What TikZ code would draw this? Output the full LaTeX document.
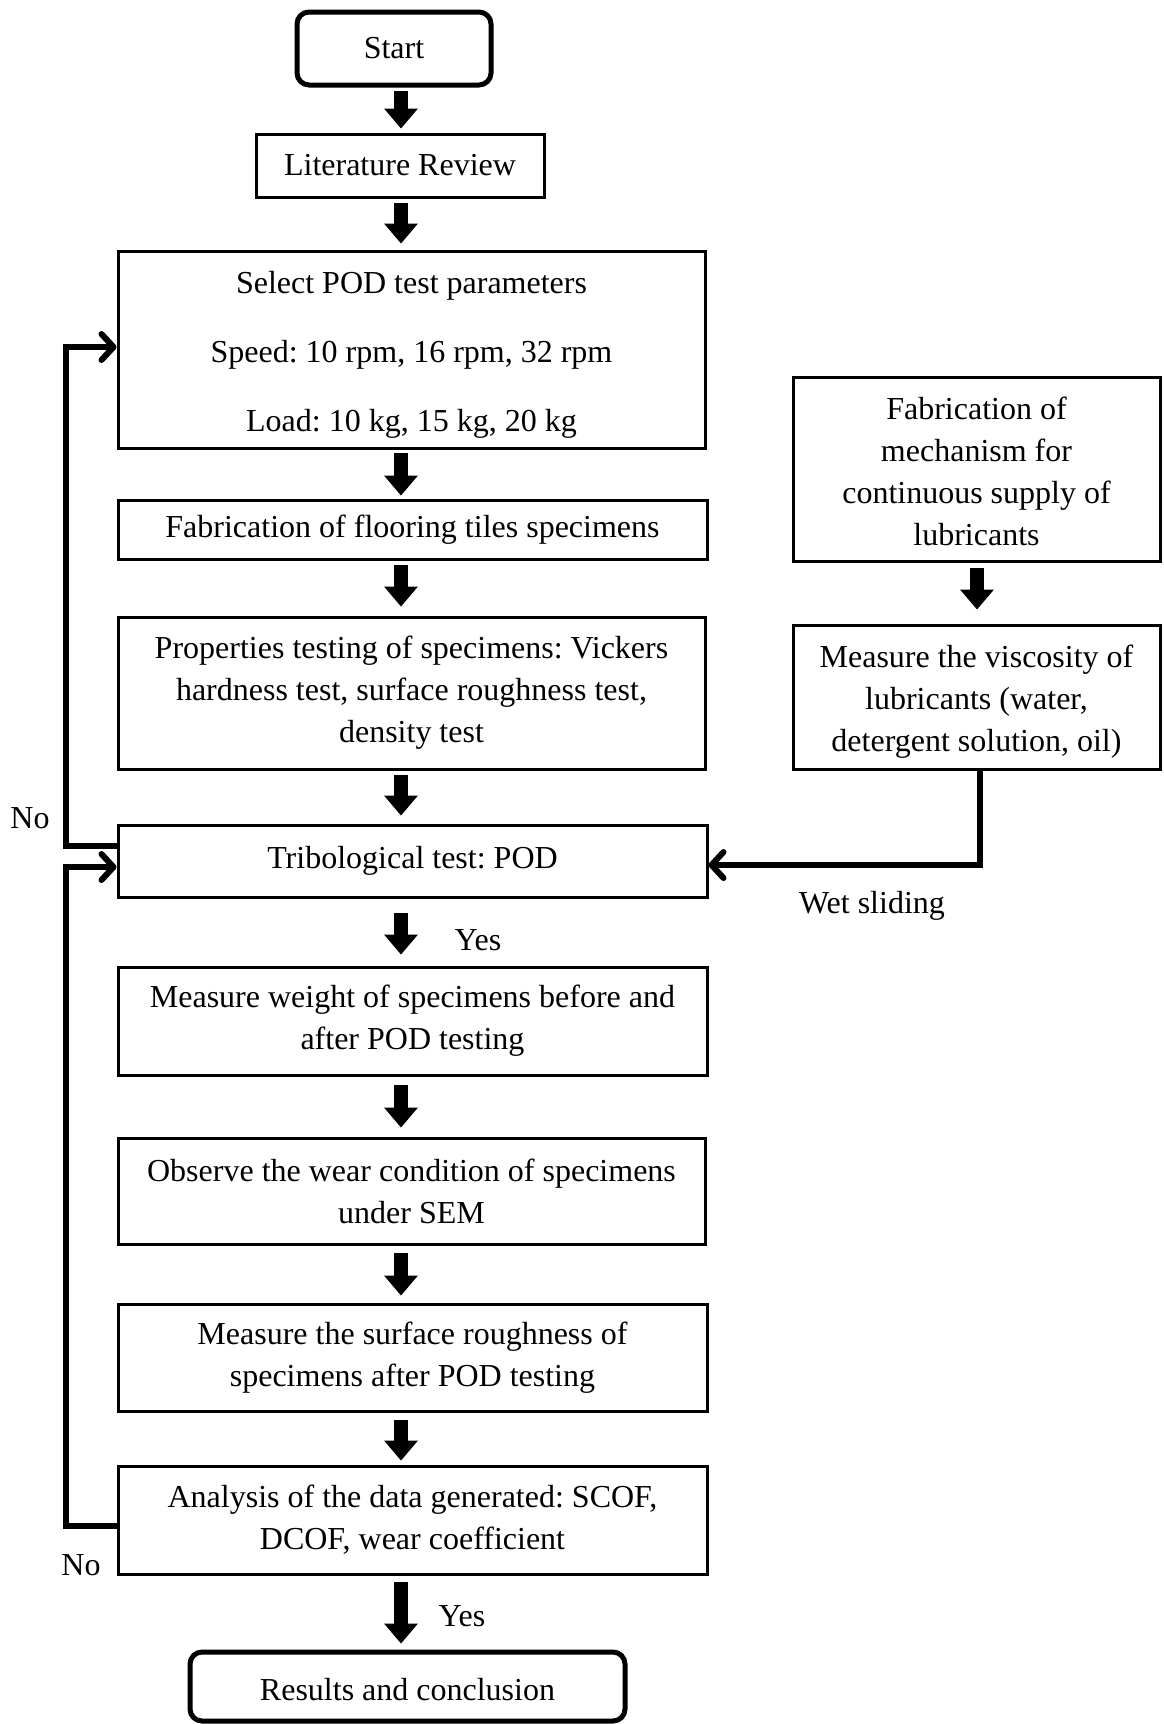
\documentclass[tikz,border=0pt]{standalone}
\usepackage{fontspec}
\setmainfont{Liberation Serif}
\usetikzlibrary{arrows.meta}
\frenchspacing
\begin{document}
\begin{tikzpicture}[x=0.5pt,y=-0.5pt,
  font=\fontsize{16pt}{21pt}\selectfont,
  box/.style={draw, line width=1.5pt, rectangle, align=center, inner sep=0pt},
  term/.style={draw, line width=2.5pt, rectangle, rounded corners=6pt, align=center, inner sep=0pt},
  blk/.style={line width=7pt, -{Triangle[width=17pt,length=10pt,line width=0pt]}},
  fb/.style={line width=3pt, -{Straight Barb[round,length=6pt,width=13pt]}},
  lbl/.style={inner sep=0pt}
]
\useasboundingbox (0,0) rectangle (1163,1724);

% main column
\node[term, minimum width=97pt, minimum height=36.5pt] (start) at (394,48.5) {Start};
\node[box, minimum width=144pt, minimum height=31.5pt] (lit) at (400,165.5) {Literature Review};
\node[box, minimum width=293.5pt, minimum height=98.5pt] (sel) at (411.5,349.5) {\rule{0pt}{16pt}Select POD test parameters\\[13.5pt] Speed: 10 rpm, 16 rpm, 32 rpm\\[13.5pt] Load: 10 kg, 15 kg, 20 kg};
\node[box, minimum width=294.5pt, minimum height=29.5pt] (tiles) at (412.5,529.5) {Fabrication of flooring tiles specimens};
\node[box, minimum width=293.5pt, minimum height=76pt] (prop) at (411.5,693) {Properties testing of specimens: Vickers\\ hardness test, surface roughness test,\\ density test};
\node[box, minimum width=294.5pt, minimum height=36pt] (tribo) at (412.5,861) {Tribological test: POD};
\node[box, minimum width=294.5pt, minimum height=54pt] (weight) at (412.5,1021) {Measure weight of specimens before and\\ after POD testing};
\node[box, minimum width=293.5pt, minimum height=53pt] (sem) at (411.5,1191) {Observe the wear condition of specimens\\ under SEM};
\node[box, minimum width=294.5pt, minimum height=53.5pt] (rough) at (412.5,1357.5) {Measure the surface roughness of\\ specimens after POD testing};
\node[box, minimum width=294.5pt, minimum height=54pt] (ana) at (412.5,1520) {Analysis of the data generated: SCOF,\\ DCOF, wear coefficient};
\node[term, minimum width=217.5pt, minimum height=34.5pt] (res) at (407.5,1686.5) {\rule{0pt}{14pt}Results and conclusion};

% right column
\node[box, minimum width=183.5pt, minimum height=92pt] (mech) at (976.5,469) {\rule{0pt}{14pt}Fabrication of\\ mechanism for\\ continuous supply of\\ lubricants};
\node[box, minimum width=183.5pt, minimum height=72pt] (visc) at (976.5,697) {\rule{0pt}{15.5pt}Measure the viscosity of\\ lubricants (water,\\ detergent solution, oil)};

% labels
\node[lbl] (no1) at (30,818) {No};
\node[lbl] (no2) at (81,1565) {No};
\node[lbl] (yes1) at (478,940) {Yes};
\node[lbl] (yes2) at (462,1616) {Yes};
\node[lbl] (wet) at (872,906) {Wet sliding};

% block arrows
\coordinate (ax) at (401,0);
\coordinate (bx) at (977,0);
\draw[blk, shorten <=1.5pt, shorten >=2pt] (start.south -| ax) -- (lit.north -| ax);
\draw[blk, shorten <=2pt, shorten >=3pt] (lit.south -| ax) -- (sel.north -| ax);
\draw[blk, shorten <=1.5pt, shorten >=1.5pt] (sel.south -| ax) -- (tiles.north -| ax);
\draw[blk, shorten <=2pt, shorten >=4.5pt] (tiles.south -| ax) -- (prop.north -| ax);
\draw[blk, shorten <=2pt, shorten >=4pt] (prop.south -| ax) -- (tribo.north -| ax);
\draw[blk, shorten <=7pt, shorten >=5.5pt] (tribo.south -| ax) -- (weight.north -| ax);
\draw[blk, shorten <=4pt, shorten >=4.5pt] (weight.south -| ax) -- (sem.north -| ax);
\draw[blk, shorten <=3.5pt, shorten >=3.5pt] (sem.south -| ax) -- (rough.north -| ax);
\draw[blk, shorten <=3.5pt, shorten >=2pt] (rough.south -| ax) -- (ana.north -| ax);
\draw[blk, shorten <=3pt, shorten >=3pt] (ana.south -| ax) -- (res.north -| ax);
\draw[blk, shorten <=2.5pt, shorten >=7pt] (mech.south -| bx) -- (visc.north -| bx);

% feedback loops
\coordinate (c1) at (66,347);
\coordinate (c2) at (66,867);
\coordinate (c3) at (980,865);
\draw[fb] ([yshift=7.5pt]tribo.west) -| (c1) -- (c1 -| sel.west);
\draw[fb] ([yshift=-3pt]ana.west) -| (c2) -- (c2 -| tribo.west);
\draw[fb] (visc.south -| c3) -- (c3) -- (c3 -| tribo.east);
\end{tikzpicture}
\end{document}
